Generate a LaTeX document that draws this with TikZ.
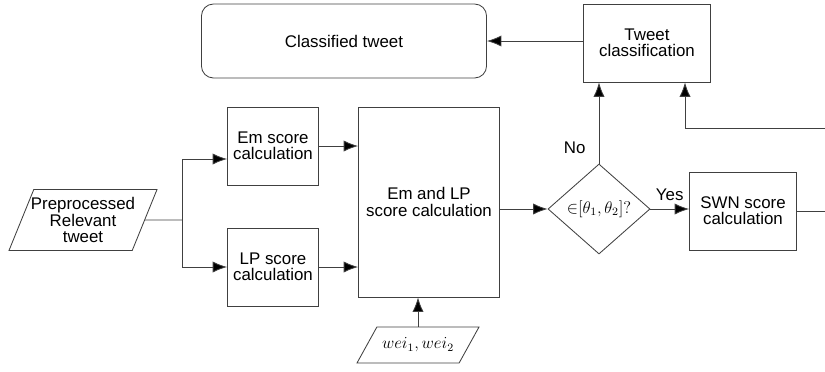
\documentclass[tikz,border=0pt]{standalone}
\usepackage{fontspec}
\setmainfont{Liberation Sans}
\usetikzlibrary{shapes.geometric,arrows.meta}

\begin{document}
\begin{tikzpicture}[x=0.025cm, y=-0.025cm,
    line width=0.6pt, draw=black!75,
    every node/.style = {align=center, draw=black!75, line width=0.6pt,
      font=\fontsize{12}{11.5}\selectfont},
    box/.style = {rectangle, draw, minimum width=#1, minimum height=1.95cm},
    box/.default = 2.275cm,
    io/.style = {trapezium, draw, trapezium stretches body, inner xsep=0pt},
    arr/.style = {-{Latex[length=3.6mm,width=2.8mm,fill=black]}},
    lbl/.style = {draw=none}]
    \useasboundingbox (0,0) rectangle (825,371);
    \node[box=7.125cm, minimum height=1.85cm, rounded corners=0.3cm] (cls) at (344,41) {Classified tweet};
    \node[box=3.175cm] (tc) at (647,43) {Tweet\\classification};
    \node[io, trapezium left angle=61, trapezium right angle=119, inner xsep=-9pt, inner ysep=0pt,
      minimum width=3.7cm, minimum height=1.525cm] (pre) at (83,220) {Preprocessed\\Relevant\\tweet};
    \node[box] (em) at (273,146) {Em score\\calculation};
    \node[box] (lp) at (273,267) {LP score\\calculation};
    \node[box=3.525cm, minimum height=4.75cm] (emlp) at (429,202) {Em and LP\\score calculation};
    \node[diamond, draw, inner sep=0pt, minimum width=2.55cm, minimum height=2.25cm] (dec) at (599,209)
      {${\in}[\theta_1,\theta_2]?$};
    \node[box=2.675cm] (swn) at (743,211) {SWN score\\calculation};
    \node[io, trapezium left angle=50, trapezium right angle=130,
      minimum width=3.05cm, minimum height=0.9cm] (wei) at (418,345) {$wei_1,wei_2$};
    \coordinate (sp) at (182,220);
    \coordinate (e1) at (825,211);
    \coordinate (e2) at (825,128);

    \draw[arr] (tc.west |- cls.east) -- (cls.east);
    \draw (pre.east) -- (sp);
    \draw[arr] (sp) |- (em.west |- 0,159);
    \draw[arr] (sp) |- (lp.west);
    \draw[arr] (em.east) -- (em -| emlp.west);
    \draw[arr] (lp.east) -- (lp -| emlp.west);
    \draw[arr] (emlp.east |- dec) -- (dec.west);
    \draw[arr] (dec.east) -- (dec -| swn.west) node[lbl, midway, above=2pt] {Yes};
    \draw[arr] (dec.north) -- (dec.north |- tc.south) node[lbl, pos=0.2, left=6pt] {No};
    \draw (swn.east) -- (e1);
    \draw[arr] (e2) -| ([xshift=0.95cm]tc.south);
    \draw[arr] (wei.north) -- (wei.north |- emlp.south);
  \end{tikzpicture}
\end{document}
